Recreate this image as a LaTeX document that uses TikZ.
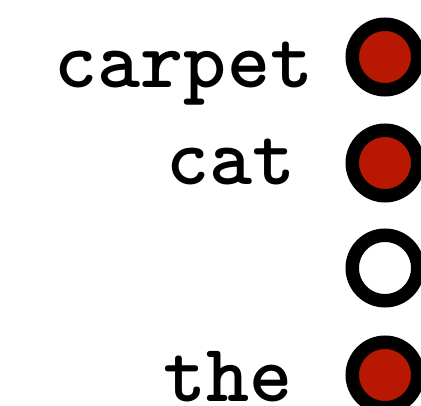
\documentclass[tikz,border=0pt]{standalone}
\definecolor{dotred}{RGB}{184,24,2}
\tikzset{
  word/.style={font=\fontsize{82}{90}\selectfont\bfseries\ttfamily, inner sep=0pt, anchor=base},
  dot/.style={circle, draw=black, line width=13.5pt, minimum size=65.5pt, inner sep=0pt},
  on/.style={dot, fill=dotred},
  off/.style={dot, fill=white}
}
\begin{document}
\begin{tikzpicture}[x=1pt,y=1pt]
\useasboundingbox (0,0) rectangle (421,-406);
\node[word] (carpet) at (184,-88) {carpet};
\node[word] (cat) at (231,-185) {cat};
\node[word] (the) at (228,-402) {the};
\node[on] (d1) at (385,-57) {};
\node[on] (d2) at (385,-163) {};
\node[off] (d3) at (385,-268) {};
\node[on] (d4) at (385,-375) {};
\end{tikzpicture}
\end{document}
